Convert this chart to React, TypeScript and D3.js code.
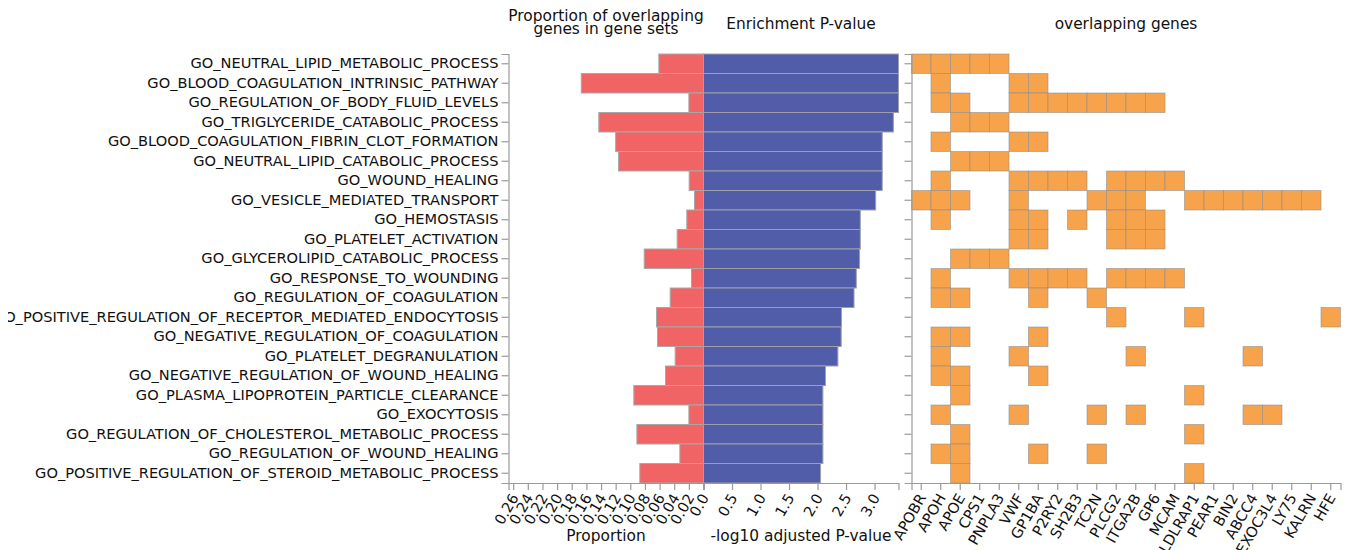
import React, { useEffect, useRef } from "react";
import * as d3 from "d3";

// Gene sets, top to bottom
const categories = [
  "GO_NEUTRAL_LIPID_METABOLIC_PROCESS",
  "GO_BLOOD_COAGULATION_INTRINSIC_PATHWAY",
  "GO_REGULATION_OF_BODY_FLUID_LEVELS",
  "GO_TRIGLYCERIDE_CATABOLIC_PROCESS",
  "GO_BLOOD_COAGULATION_FIBRIN_CLOT_FORMATION",
  "GO_NEUTRAL_LIPID_CATABOLIC_PROCESS",
  "GO_WOUND_HEALING",
  "GO_VESICLE_MEDIATED_TRANSPORT",
  "GO_HEMOSTASIS",
  "GO_PLATELET_ACTIVATION",
  "GO_GLYCEROLIPID_CATABOLIC_PROCESS",
  "GO_RESPONSE_TO_WOUNDING",
  "GO_REGULATION_OF_COAGULATION",
  "GO_POSITIVE_REGULATION_OF_RECEPTOR_MEDIATED_ENDOCYTOSIS",
  "GO_NEGATIVE_REGULATION_OF_COAGULATION",
  "GO_PLATELET_DEGRANULATION",
  "GO_NEGATIVE_REGULATION_OF_WOUND_HEALING",
  "GO_PLASMA_LIPOPROTEIN_PARTICLE_CLEARANCE",
  "GO_EXOCYTOSIS",
  "GO_REGULATION_OF_CHOLESTEROL_METABOLIC_PROCESS",
  "GO_REGULATION_OF_WOUND_HEALING",
  "GO_POSITIVE_REGULATION_OF_STEROID_METABOLIC_PROCESS",
];

// Proportion of overlapping genes in each gene set
const proportions = [
  0.061, 0.167, 0.02, 0.143, 0.12, 0.116, 0.0196, 0.0123, 0.0228, 0.036, 0.081,
  0.0164, 0.0455, 0.0642, 0.0628, 0.0387, 0.0519, 0.0952, 0.02, 0.091, 0.0323,
  0.087,
];

// -log10 adjusted enrichment P-value
const negLogP = [
  3.42, 3.42, 3.42, 3.33, 3.135, 3.135, 3.135, 3.02, 2.75, 2.75, 2.737, 2.68,
  2.64, 2.42, 2.415, 2.357, 2.14, 2.094, 2.094, 2.094, 2.094, 2.053,
];

const genes = [
  "APOBR", "APOH", "APOE", "CPS1", "PNPLA3", "VWF", "GP1BA", "P2RY2", "SH2B3",
  "TC2N", "PLCG2", "ITGA2B", "GP6", "MCAM", "LDLRAP1", "PEAR1", "BIN2", "ABCC4",
  "EXOC3L4", "LY75", "KALRN", "HFE",
];

// Overlapping genes for each gene set (same order as categories)
const overlaps = [
  ["APOBR", "APOH", "APOE", "CPS1", "PNPLA3"],
  ["APOH", "VWF", "GP1BA"],
  ["APOH", "APOE", "VWF", "GP1BA", "P2RY2", "SH2B3", "TC2N", "PLCG2", "ITGA2B", "GP6"],
  ["APOE", "CPS1", "PNPLA3"],
  ["APOH", "VWF", "GP1BA"],
  ["APOE", "CPS1", "PNPLA3"],
  ["APOH", "VWF", "GP1BA", "P2RY2", "SH2B3", "PLCG2", "ITGA2B", "GP6", "MCAM"],
  ["APOBR", "APOH", "APOE", "VWF", "TC2N", "PLCG2", "ITGA2B", "LDLRAP1", "PEAR1", "BIN2", "ABCC4", "EXOC3L4", "LY75", "KALRN"],
  ["APOH", "VWF", "GP1BA", "SH2B3", "PLCG2", "ITGA2B", "GP6"],
  ["VWF", "GP1BA", "PLCG2", "ITGA2B", "GP6"],
  ["APOE", "CPS1", "PNPLA3"],
  ["APOH", "VWF", "GP1BA", "P2RY2", "SH2B3", "PLCG2", "ITGA2B", "GP6", "MCAM"],
  ["APOH", "APOE", "GP1BA", "TC2N"],
  ["PLCG2", "LDLRAP1", "HFE"],
  ["APOH", "APOE", "GP1BA"],
  ["APOH", "VWF", "ITGA2B", "ABCC4"],
  ["APOH", "APOE", "GP1BA"],
  ["APOE", "LDLRAP1"],
  ["APOH", "VWF", "TC2N", "ITGA2B", "ABCC4", "EXOC3L4"],
  ["APOE", "LDLRAP1"],
  ["APOH", "APOE", "GP1BA", "TC2N"],
  ["APOE", "LDLRAP1"],
];

const W = 1343;
const H = 542;
const FONT = "'DejaVu Sans', sans-serif";
const RED = "#f06466";
const BLUE = "#525da9";
const ORANGE = "#f7a34c";
const AXIS = "#9a9a9a";
const LABEL_SIZE = 14.6;
const TITLE_SIZE = 15.4;

export default function App() {
  const ref = useRef<SVGSVGElement | null>(null);

  useEffect(() => {
    const svg = d3.select(ref.current);
    svg.selectAll("*").remove();
    // page coordinates (the svg sits inside the 8px body margin)
    const g = svg.append("g").attr("transform", "translate(-8,-8)");

    const top = 54;
    const bottom = 483;
    const zeroX = 703.5;
    const half = 195;
    const gridLeft = 911.5;
    const gridRight = gridLeft + 19.5 * genes.length;

    const y = d3.scaleBand<string>().domain(categories).range([top, bottom]).padding(0);
    const xProp = d3.scaleLinear().domain([0, 0.2664]).range([zeroX, zeroX - half]);
    const xP = d3.scaleLinear().domain([0, d3.max(negLogP) as number]).range([zeroX, zeroX + half]);
    const xGene = d3.scaleBand<string>().domain(genes).range([gridLeft, gridRight]).padding(0);

    const rows = categories.map((c, i) => ({ c, prop: proportions[i], p: negLogP[i], genes: overlaps[i] }));

    // proportion bars (extend to the left)
    g.append("g")
      .selectAll("rect")
      .data(rows)
      .join("rect")
      .attr("x", (d) => xProp(d.prop))
      .attr("y", (d) => y(d.c) as number)
      .attr("width", (d) => zeroX - xProp(d.prop))
      .attr("height", y.bandwidth())
      .attr("fill", RED)
      .attr("stroke", "#a8a8a8")
      .attr("stroke-width", 1);

    // enrichment bars (extend to the right)
    g.append("g")
      .selectAll("rect")
      .data(rows)
      .join("rect")
      .attr("x", zeroX)
      .attr("y", (d) => y(d.c) as number)
      .attr("width", (d) => xP(d.p) - zeroX)
      .attr("height", y.bandwidth())
      .attr("fill", BLUE)
      .attr("stroke", "#a0a0a8")
      .attr("stroke-width", 1);

    // overlap matrix
    const cells = rows.flatMap((r) => r.genes.map((gene) => ({ c: r.c, gene })));
    g.append("g")
      .selectAll("rect")
      .data(cells)
      .join("rect")
      .attr("x", (d) => xGene(d.gene) as number)
      .attr("y", (d) => y(d.c) as number)
      .attr("width", xGene.bandwidth())
      .attr("height", y.bandwidth())
      .attr("fill", ORANGE)
      .attr("stroke", "rgba(140,140,140,0.55)")
      .attr("stroke-width", 1);

    const styleAxis = (sel: any) => {
      sel.select(".domain").attr("stroke", AXIS).attr("stroke-width", 1.2);
      sel.selectAll(".tick line").attr("stroke", AXIS).attr("stroke-width", 1.2);
      sel.selectAll("text").attr("fill", "#111").style("font-family", FONT);
    };

    const rotateLabels = (sel: any) => {
      sel
        .selectAll(".tick text")
        .attr("x", 0)
        .attr("y", 0)
        .attr("dy", "0.35em")
        .attr("dx", 0)
        .attr("transform", "translate(1,12) rotate(-60)")
        .style("text-anchor", "end");
    };

    // category axis
    const yAxis = g
      .append("g")
      .attr("transform", `translate(${zeroX - half},0)`)
      .call(d3.axisLeft(y).tickSize(7).tickPadding(3).tickSizeOuter(7))
      .attr("font-size", LABEL_SIZE);
    styleAxis(yAxis);

    // right panel axis (no labels)
    const yAxis2 = g
      .append("g")
      .attr("transform", `translate(${gridLeft},0)`)
      .call(d3.axisLeft(y).tickSize(7).tickSizeOuter(7).tickFormat(() => ""));
    styleAxis(yAxis2);

    // proportion axis
    const propAxis = g
      .append("g")
      .attr("transform", `translate(0,${bottom})`)
      .call(
        d3
          .axisBottom(xProp)
          .tickValues(d3.range(0, 0.2601, 0.02))
          .tickFormat((d: any) => (Math.abs(d) < 1e-9 ? "0.0" : d3.format(".2f")(d)))
          .tickSize(7)
          .tickSizeOuter(7)
      )
      .attr("font-size", LABEL_SIZE);
    styleAxis(propAxis);
    rotateLabels(propAxis);

    // enrichment axis
    const pAxis = g
      .append("g")
      .attr("transform", `translate(0,${bottom})`)
      .call(
        d3
          .axisBottom(xP)
          .tickValues([0, 0.5, 1, 1.5, 2, 2.5, 3])
          .tickFormat((d: any) => (d === 0 ? "" : d3.format(".1f")(d)))
          .tickSize(7)
          .tickSizeOuter(7)
      )
      .attr("font-size", LABEL_SIZE);
    styleAxis(pAxis);
    rotateLabels(pAxis);

    // gene axis
    const gAxis = g
      .append("g")
      .attr("transform", `translate(0,${bottom})`)
      .call(d3.axisBottom(xGene).tickSize(7).tickSizeOuter(7))
      .attr("font-size", LABEL_SIZE);
    styleAxis(gAxis);
    rotateLabels(gAxis);

    // titles
    const title = (x: number, yy: number, t: string) =>
      g
        .append("text")
        .attr("x", x)
        .attr("y", yy)
        .attr("text-anchor", "middle")
        .attr("font-family", FONT)
        .attr("font-size", TITLE_SIZE)
        .attr("fill", "#111")
        .text(t);

    title(zeroX - half / 2, 20.5, "Proportion of overlapping");
    title(zeroX - half / 2, 34, "genes in gene sets");
    title(zeroX + half / 2, 28.5, "Enrichment P-value");
    title((gridLeft + gridRight) / 2, 28.5, "overlapping genes");
    title(zeroX - half / 2, 541, "Proportion");
    title(zeroX + half / 2, 541, "-log10 adjusted P-value");
  }, []);

  return <svg ref={ref} width={W} height={H} style={{ display: "block" }} />;
}
